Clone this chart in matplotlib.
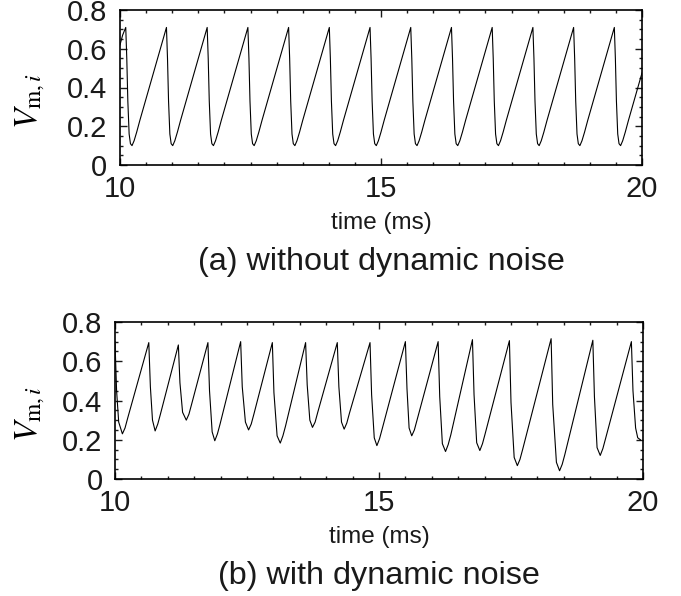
import matplotlib
matplotlib.use("Agg")
import matplotlib.pyplot as plt
from matplotlib.ticker import MultipleLocator

plt.rcParams['font.family'] = ['Liberation Sans', 'DejaVu Sans']
plt.rcParams['mathtext.fontset'] = 'stix'

# (a) without dynamic noise (time in ms, V)
t_a = [10.00, 10.05,
       10.11, 10.13, 10.15, 10.175, 10.20, 10.23, 10.27, 10.32, 10.38,
       10.89, 10.91, 10.93, 10.955, 10.98, 11.01, 11.05, 11.10, 11.16,
       11.67, 11.69, 11.71, 11.735, 11.76, 11.79, 11.83, 11.88, 11.94,
       12.45, 12.47, 12.49, 12.515, 12.54, 12.57, 12.61, 12.66, 12.72,
       13.23, 13.25, 13.27, 13.295, 13.32, 13.35, 13.39, 13.44, 13.50,
       14.01, 14.03, 14.05, 14.075, 14.10, 14.13, 14.17, 14.22, 14.28,
       14.79, 14.81, 14.83, 14.855, 14.88, 14.91, 14.95, 15.00, 15.06,
       15.57, 15.59, 15.61, 15.635, 15.66, 15.69, 15.73, 15.78, 15.84,
       16.35, 16.37, 16.39, 16.415, 16.44, 16.47, 16.51, 16.56, 16.62,
       17.13, 17.15, 17.17, 17.195, 17.22, 17.25, 17.29, 17.34, 17.40,
       17.91, 17.93, 17.95, 17.975, 18.00, 18.03, 18.07, 18.12, 18.18,
       18.69, 18.71, 18.73, 18.755, 18.78, 18.81, 18.85, 18.90, 18.96,
       19.47, 19.49, 19.51, 19.535, 19.56, 19.59, 19.63, 19.68, 19.74,
       20.00]
v_a = [0.62, 0.67,
       0.71, 0.55, 0.33, 0.16, 0.11, 0.10, 0.125, 0.17, 0.23,
       0.71, 0.55, 0.33, 0.16, 0.11, 0.10, 0.125, 0.17, 0.23,
       0.71, 0.55, 0.33, 0.16, 0.11, 0.10, 0.125, 0.17, 0.23,
       0.71, 0.55, 0.33, 0.16, 0.11, 0.10, 0.125, 0.17, 0.23,
       0.71, 0.55, 0.33, 0.16, 0.11, 0.10, 0.125, 0.17, 0.23,
       0.71, 0.55, 0.33, 0.16, 0.11, 0.10, 0.125, 0.17, 0.23,
       0.71, 0.55, 0.33, 0.16, 0.11, 0.10, 0.125, 0.17, 0.23,
       0.71, 0.55, 0.33, 0.16, 0.11, 0.10, 0.125, 0.17, 0.23,
       0.71, 0.55, 0.33, 0.16, 0.11, 0.10, 0.125, 0.17, 0.23,
       0.71, 0.55, 0.33, 0.16, 0.11, 0.10, 0.125, 0.17, 0.23,
       0.71, 0.55, 0.33, 0.16, 0.11, 0.10, 0.125, 0.17, 0.23,
       0.71, 0.55, 0.33, 0.16, 0.11, 0.10, 0.125, 0.17, 0.23,
       0.71, 0.55, 0.33, 0.16, 0.11, 0.10, 0.125, 0.17, 0.23,
       0.475]

# (b) with dynamic noise
t_b = [10.00, 10.03, 10.07, 10.14, 10.19, 10.24,
       10.64, 10.67, 10.71, 10.76, 10.81, 10.86,
       11.20, 11.23, 11.28, 11.35, 11.40, 11.45,
       11.76, 11.79, 11.84, 11.89, 11.94, 11.99,
       12.38, 12.41, 12.47, 12.53, 12.58, 12.63,
       12.98, 13.01, 13.07, 13.13, 13.18, 13.23,
       13.61, 13.64, 13.69, 13.74, 13.79, 13.84,
       14.21, 14.24, 14.29, 14.34, 14.39, 14.44,
       14.83, 14.86, 14.91, 14.96, 15.01, 15.06,
       15.50, 15.53, 15.57, 15.62, 15.67, 15.72,
       16.12, 16.15, 16.20, 16.26, 16.31, 16.36,
       16.77, 16.80, 16.85, 16.91, 16.96, 17.01,
       17.47, 17.50, 17.56, 17.62, 17.67, 17.72,
       18.26, 18.29, 18.36, 18.42, 18.47, 18.52,
       19.05, 19.08, 19.13, 19.19, 19.24, 19.29,
       19.78, 19.81, 19.86, 19.90, 19.95]
v_b = [0.70, 0.45, 0.29, 0.23, 0.26, 0.31,
       0.695, 0.47, 0.30, 0.245, 0.28, 0.33,
       0.683, 0.49, 0.34, 0.30, 0.33, 0.38,
       0.695, 0.45, 0.24, 0.195, 0.23, 0.28,
       0.70, 0.47, 0.29, 0.25, 0.28, 0.33,
       0.695, 0.44, 0.22, 0.183, 0.22, 0.27,
       0.695, 0.48, 0.30, 0.263, 0.29, 0.34,
       0.695, 0.47, 0.29, 0.254, 0.285, 0.335,
       0.695, 0.43, 0.21, 0.17, 0.205, 0.255,
       0.70, 0.46, 0.26, 0.22, 0.25, 0.30,
       0.70, 0.42, 0.18, 0.14, 0.175, 0.225,
       0.71, 0.43, 0.185, 0.145, 0.18, 0.23,
       0.705, 0.39, 0.11, 0.068, 0.10, 0.15,
       0.715, 0.38, 0.085, 0.042, 0.075, 0.125,
       0.707, 0.42, 0.16, 0.12, 0.155, 0.205,
       0.70, 0.45, 0.26, 0.21, 0.20]

x_ticks = [10, 15, 20]
y_ticks = [0, 0.2, 0.4, 0.6, 0.8]
y_ticklabels = ['0', '0.2', '0.4', '0.6', '0.8']

W, H = 681, 596
fig = plt.figure(figsize=(W / 100, H / 100), dpi=100)

panels = [
    # left, top, right, bottom in pixels
    ((120, 10, 642, 165), t_a, v_a, '(a) without dynamic noise'),
    ((115, 322, 643, 479), t_b, v_b, '(b) with dynamic noise'),
]

for (l, t, r, b), xs, ys, caption in panels:
    ax = fig.add_axes([l / W, 1 - b / H, (r - l) / W, (b - t) / H])
    ax.plot(xs, ys, color='black', lw=0.8)
    ax.set_xlim(10, 20)
    ax.set_ylim(0, 0.8)
    ax.set_xticks(x_ticks)
    ax.set_yticks(y_ticks)
    ax.set_yticklabels(y_ticklabels)
    ax.xaxis.set_minor_locator(MultipleLocator(0.5))
    ax.yaxis.set_minor_locator(MultipleLocator(0.05))
    ax.tick_params(which='both', direction='in', top=True, right=True,
                   width=1.0, labelsize=21, colors='#1a1a1a')
    ax.tick_params(which='major', length=5)
    ax.tick_params(which='minor', length=2.5)
    ax.tick_params(axis='x', pad=7)
    ax.tick_params(axis='y', pad=9)
    for s in ax.spines.values():
        s.set_linewidth(1.2)

    cx = (l + r) / 2 / W
    fig.text(cx, 1 - (b + 58) / H, 'time (ms)', ha='center', va='center',
             fontsize=17.5, color='#1a1a1a')
    fig.text(cx, 1 - (b + 97) / H, caption, ha='center', va='center',
             fontsize=23.3, color='#1a1a1a')
    fig.text(30 / W, 1 - ((t + b) / 2 + 14) / H, r'$V_{\mathrm{m},i}$',
             rotation=90, ha='center', va='center', fontsize=24)

fig.savefig('out.png', dpi=100)
